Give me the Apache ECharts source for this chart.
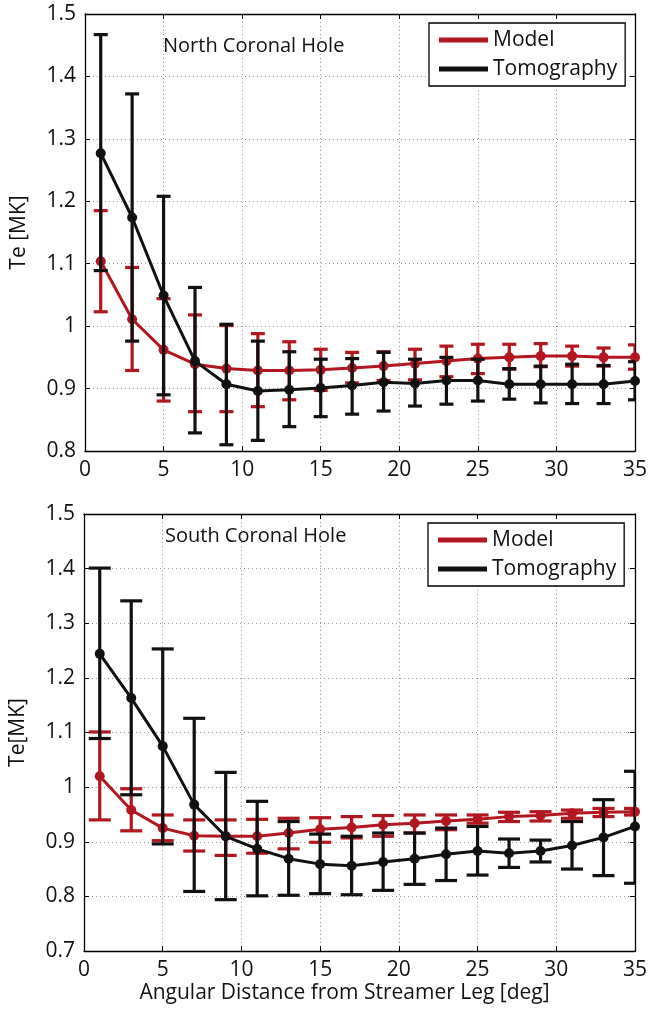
<!DOCTYPE html>
<html>
<head>
<meta charset="utf-8">
<script src="https://cdn.jsdelivr.net/npm/echarts@6/dist/echarts.min.js"></script>
<style>
  html, body { margin: 0; padding: 0; background: #fff; }
  #chart { width: 650px; height: 1011px; }
</style>
</head>
<body>
<div id="chart"></div>
<script>
// angular distance from streamer leg [deg]
var angles = [1, 3, 5, 7, 9, 11, 13, 15, 17, 19, 21, 23, 25, 27, 29, 31, 33, 35];

// North coronal hole
var northModel     = [1.104, 1.011, 0.962, 0.939, 0.932, 0.929, 0.929, 0.930, 0.933, 0.936, 0.940, 0.944, 0.948, 0.950, 0.952, 0.952, 0.950, 0.950];
var northModelLow  = [1.023, 0.929, 0.880, 0.863, 0.863, 0.871, 0.882, 0.897, 0.909, 0.913, 0.914, 0.919, 0.924, 0.931, 0.935, 0.936, 0.936, 0.931];
var northModelHigh = [1.185, 1.094, 1.044, 1.018, 1.001, 0.988, 0.975, 0.963, 0.958, 0.959, 0.963, 0.968, 0.971, 0.971, 0.972, 0.968, 0.965, 0.970];
var northTomo      = [1.277, 1.174, 1.049, 0.944, 0.907, 0.896, 0.898, 0.901, 0.905, 0.910, 0.908, 0.913, 0.913, 0.907, 0.907, 0.907, 0.907, 0.912];
var northTomoLow   = [1.089, 0.976, 0.890, 0.829, 0.810, 0.817, 0.839, 0.855, 0.859, 0.864, 0.872, 0.875, 0.880, 0.883, 0.877, 0.876, 0.876, 0.882];
var northTomoHigh  = [1.467, 1.372, 1.208, 1.062, 1.003, 0.976, 0.959, 0.947, 0.948, 0.958, 0.947, 0.950, 0.947, 0.932, 0.936, 0.939, 0.937, 0.943];

// South coronal hole
var southModel     = [1.020, 0.958, 0.925, 0.911, 0.910, 0.910, 0.916, 0.923, 0.926, 0.931, 0.934, 0.938, 0.941, 0.946, 0.948, 0.952, 0.954, 0.955];
var southModelLow  = [0.940, 0.920, 0.902, 0.883, 0.875, 0.879, 0.887, 0.899, 0.907, 0.910, 0.916, 0.922, 0.934, 0.937, 0.938, 0.943, 0.946, 0.949];
var southModelHigh = [1.101, 0.997, 0.949, 0.940, 0.940, 0.941, 0.943, 0.944, 0.946, 0.948, 0.949, 0.949, 0.949, 0.954, 0.955, 0.958, 0.961, 0.961];
var southTomo      = [1.244, 1.163, 1.075, 0.968, 0.910, 0.887, 0.869, 0.859, 0.856, 0.863, 0.869, 0.877, 0.883, 0.879, 0.883, 0.893, 0.908, 0.928];
var southTomoLow   = [1.089, 0.986, 0.896, 0.809, 0.794, 0.801, 0.802, 0.805, 0.803, 0.811, 0.822, 0.829, 0.839, 0.853, 0.863, 0.850, 0.838, 0.824];
var southTomoHigh  = [1.401, 1.341, 1.253, 1.126, 1.027, 0.974, 0.937, 0.914, 0.910, 0.916, 0.916, 0.925, 0.928, 0.905, 0.903, 0.937, 0.977, 1.029];

var RED = '#b2161e';
var BLACK = '#111111';
var FONT = 'Open Sans';

function pairs(ys) {
  var ret = [];
  for (var i = 0; i < angles.length; i++) {
    ret.push([angles[i], ys[i]]);
  }
  return ret;
}

function bars(low, high) {
  var ret = [];
  for (var i = 0; i < angles.length; i++) {
    ret.push([angles[i], low[i], high[i]]);
  }
  return ret;
}

// vertical bar with caps, half = half cap width in px
function renderErrorBar(color, half) {
  return function (params, api) {
    var x = api.value(0);
    var lo = api.coord([x, api.value(1)]);
    var hi = api.coord([x, api.value(2)]);
    var style = { stroke: color, lineWidth: 3.2 };
    return {
      type: 'group',
      children: [
        { type: 'line', shape: { x1: lo[0], y1: lo[1], x2: hi[0], y2: hi[1] }, style: style },
        { type: 'line', shape: { x1: lo[0] - half, y1: lo[1], x2: lo[0] + half, y2: lo[1] }, style: style },
        { type: 'line', shape: { x1: hi[0] - half, y1: hi[1], x2: hi[0] + half, y2: hi[1] }, style: style }
      ]
    };
  };
}

function xAxes(gridIndex) {
  var common = {
    type: 'value', gridIndex: gridIndex, min: 0, max: 35, interval: 5,
    axisLine: { show: true, onZero: false, lineStyle: { color: '#000', width: 1.3 } },
    axisTick: { show: true, inside: true, length: 5, lineStyle: { color: '#000' } }
  };
  return [
    Object.assign({}, common, {
      position: 'bottom',
      axisLabel: { show: true, margin: 9, color: '#111', fontSize: 21, fontFamily: FONT },
      splitLine: { show: true, lineStyle: { color: '#999', type: [1, 3], width: 1 } }
    }),
    Object.assign({}, common, {
      position: 'top',
      axisLabel: { show: false },
      splitLine: { show: false }
    })
  ];
}

function yAxes(gridIndex, min, name) {
  var common = {
    type: 'value', gridIndex: gridIndex, min: min, max: 1.5, interval: 0.1,
    axisLine: { show: true, onZero: false, lineStyle: { color: '#000', width: 1.3 } },
    axisTick: { show: true, inside: true, length: 5, lineStyle: { color: '#000' } }
  };
  return [
    Object.assign({}, common, {
      position: 'left',
      name: name,
      nameLocation: 'middle',
      nameGap: 55,
      nameTextStyle: { color: '#111', fontSize: 21, fontFamily: FONT, padding: [0, 0, 0, 0] },
      axisLabel: {
        show: true, margin: 9, color: '#111', fontSize: 21, fontFamily: FONT,
        formatter: function (v) { return String(+v.toFixed(1)); }
      },
      splitLine: { show: true, lineStyle: { color: '#999', type: [1, 3], width: 1 } }
    }),
    Object.assign({}, common, {
      position: 'right',
      axisLabel: { show: false },
      splitLine: { show: false }
    })
  ];
}

function legendAt(left, top) {
  return {
    orient: 'vertical',
    left: left,
    top: top,
    data: ['Model', 'Tomography'],
    icon: 'rect',
    itemWidth: 49,
    itemHeight: 5,
    itemGap: 5,
    padding: [5, 8, 5, 10],
    borderColor: '#000',
    borderWidth: 1.3,
    backgroundColor: '#fff',
    selectedMode: false,
    textStyle: { color: '#111', fontSize: 21, fontFamily: FONT, lineHeight: 24 }
  };
}

function panelSeries(xi, yi, half, model, modelLow, modelHigh, tomo, tomoLow, tomoHigh) {
  return [
    {
      type: 'custom', name: 'Model', xAxisIndex: xi, yAxisIndex: yi, clip: true,
      renderItem: renderErrorBar(RED, half), data: bars(modelLow, modelHigh),
      itemStyle: { color: RED }, z: 2, silent: true
    },
    {
      type: 'line', name: 'Model', xAxisIndex: xi, yAxisIndex: yi,
      data: pairs(model), symbol: 'circle', symbolSize: 10,
      lineStyle: { color: RED, width: 3 }, itemStyle: { color: RED }, z: 3
    },
    {
      type: 'custom', name: 'Tomography', xAxisIndex: xi, yAxisIndex: yi, clip: true,
      renderItem: renderErrorBar(BLACK, half), data: bars(tomoLow, tomoHigh),
      itemStyle: { color: BLACK }, z: 4, silent: true
    },
    {
      type: 'line', name: 'Tomography', xAxisIndex: xi, yAxisIndex: yi,
      data: pairs(tomo), symbol: 'circle', symbolSize: 10,
      lineStyle: { color: BLACK, width: 3 }, itemStyle: { color: BLACK }, z: 5
    }
  ];
}

var myChart = echarts.init(document.getElementById('chart'), null, { renderer: 'canvas' });

var bottomX = xAxes(1);
bottomX[0].name = 'Angular Distance from Streamer Leg [deg]';
bottomX[0].nameLocation = 'middle';
bottomX[0].nameGap = 32;
bottomX[0].nameTextStyle = { color: '#111', fontSize: 21, fontFamily: FONT, padding: [0, 30, 0, 0] };

var option = {
  animation: false,
  backgroundColor: '#fff',
  textStyle: { fontFamily: FONT },
  title: [
    { text: 'North Coronal Hole', left: 158, top: 31, textStyle: { color: '#111', fontSize: 20, fontWeight: 'normal', fontFamily: FONT } },
    { text: 'South Coronal Hole', left: 160, top: 521, textStyle: { color: '#111', fontSize: 20, fontWeight: 'normal', fontFamily: FONT } }
  ],
  grid: [
    { left: 85, top: 14, width: 554, height: 437 },
    { left: 83, top: 514, width: 555, height: 437 }
  ],
  legend: [legendAt(429, 23), legendAt(428, 523)],
  xAxis: xAxes(0).concat(bottomX),
  yAxis: yAxes(0, 0.8, 'Te [MK]').concat(yAxes(1, 0.7, 'Te[MK]')),
  series: panelSeries(0, 0, 7, northModel, northModelLow, northModelHigh, northTomo, northTomoLow, northTomoHigh)
    .concat(panelSeries(2, 2, 11, southModel, southModelLow, southModelHigh, southTomo, southTomoLow, southTomoHigh))
};

myChart.setOption(option);
window.addEventListener('resize', function () {
  myChart.resize();
});
</script>
</body>
</html>
